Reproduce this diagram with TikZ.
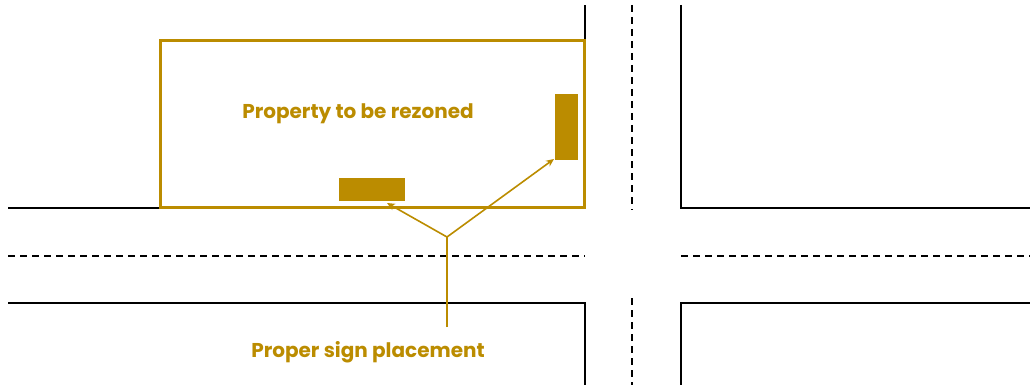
\documentclass[tikz,border=0pt]{standalone}
\usepackage{fontspec}
\setmainfont{Poppins}
\usetikzlibrary{arrows.meta}
\definecolor{gold}{RGB}{187,140,0}
\tikzset{
  road/.style={line width=1.5pt, black},
  center/.style={line width=1.5pt, black, dash pattern=on 7pt off 5pt},
  prop/.style={draw=gold, line width=3pt},
  sign/.style={fill=gold, draw=none, inner sep=0pt},
  pointer/.style={draw=gold, line width=1.6pt},
  lbl/.style={text=gold, font=\bfseries\fontsize{20}{24}\selectfont, inner sep=0pt}
}
\begin{document}
\begin{tikzpicture}[x=1pt,y=-1pt]
\useasboundingbox (0,0) rectangle (1030,385);
% roads
\draw[road] (8,208) -- (585,208) -- (585,5);
\draw[road] (681,5) -- (681,208) -- (1030,208);
\draw[road] (8,303) -- (585,303) -- (585,385);
\draw[road] (1030,303) -- (681,303) -- (681,385);
\draw[center] (8,256) -- (585,256);
\draw[center] (681,256) -- (1030,256);
\draw[center] (632,5) -- (632,210);
\draw[center] (632,298) -- (632,385);
% property
\draw[prop] (160,41) rectangle (584,207);
\node[lbl] (ptext) at (358,113.5) {Property to be rezoned};
% signs
\node[sign, minimum width=66pt, minimum height=23pt] (s1) at (372,189.5) {};
\node[sign, minimum width=23pt, minimum height=66pt] (s2) at (566.5,127) {};
% pointer
\node[lbl] (ltext) at (368,352) {Proper sign placement};
\coordinate (j) at (447,237);
\coordinate (b) at (447,327);
\coordinate (t1) at (387,203);
\coordinate (t2) at (554,159);
\draw[pointer] (b) -- (j);
\draw[pointer, -{Stealth[length=8pt,width=7pt]}] (j) -- (t1);
\draw[pointer, -{Stealth[length=8pt,width=7pt]}] (j) -- (t2);
\end{tikzpicture}
\end{document}
